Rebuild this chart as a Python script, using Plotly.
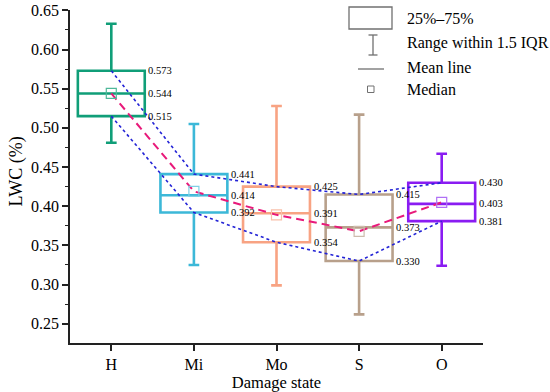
import plotly.graph_objects as go

categories = ["H", "Mi", "Mo", "S", "O"]
q1 = [0.515, 0.392, 0.354, 0.330, 0.381]
median = [0.544, 0.414, 0.391, 0.373, 0.403]
q3 = [0.573, 0.441, 0.425, 0.415, 0.430]
lower_whisker = [0.481, 0.325, 0.299, 0.262, 0.324]
upper_whisker = [0.633, 0.505, 0.528, 0.517, 0.467]
marker_values = [0.544, 0.419, 0.389, 0.368, 0.405]
colors = ["#109e78", "#3cb8d8", "#f8a383", "#b8a08b", "#8a1cf2"]
marker_colors = ["#4fb89a", "#7fd0e6", "#f9c0aa", "#cdbcad", "#b070f5"]

FONT = "Liberation Serif"

fig = go.Figure()

for i, c in enumerate(categories):
    fig.add_trace(go.Box(
        x=[c], q1=[q1[i]], median=[median[i]], q3=[q3[i]],
        lowerfence=[lower_whisker[i]], upperfence=[upper_whisker[i]],
        width=0.81, whiskerwidth=0.16,
        line=dict(color=colors[i], width=2.6),
        fillcolor="rgba(0,0,0,0)", boxpoints=False, showlegend=False,
        hoverinfo="skip",
    ))

# blue dotted lines through Q3 and Q1
fig.add_trace(go.Scatter(x=categories, y=q3, mode="lines",
                         line=dict(color="#2323d6", width=1.6, dash="dot"),
                         showlegend=False, hoverinfo="skip"))
fig.add_trace(go.Scatter(x=categories, y=q1, mode="lines",
                         line=dict(color="#2323d6", width=1.6, dash="dot"),
                         showlegend=False, hoverinfo="skip"))
# magenta dashed line through markers
fig.add_trace(go.Scatter(x=categories, y=marker_values, mode="lines",
                         line=dict(color="#e8197a", width=2, dash="8px,5px"),
                         showlegend=False, hoverinfo="skip"))
fig.add_trace(go.Scatter(x=categories, y=marker_values, mode="markers",
                         marker=dict(symbol="square-open", size=10,
                                     color=marker_colors,
                                     line=dict(width=1.2, color=marker_colors)),
                         showlegend=False, hoverinfo="skip"))

# value labels
for i, c in enumerate(categories):
    for v in (q3[i], median[i], q1[i]):
        fig.add_annotation(x=c, y=v, text=f"{v:.3f}", showarrow=False,
                           xanchor="left", yanchor="middle", xshift=35,
                           font=dict(family=FONT, size=10.5, color="black"))

# legend (drawn manually)
L, T, W, H = 70, 10, 413, 333
def px(x):
    return (x - L) / W
def py(y):
    return (T + H - y) / H

gray = "#707070"
fig.add_shape(type="rect", xref="paper", yref="paper",
              x0=px(349), x1=px(392), y0=py(29), y1=py(7),
              line=dict(color=gray, width=1.3))
fig.add_shape(type="line", xref="paper", yref="paper",
              x0=px(373), x1=px(373), y0=py(55), y1=py(35),
              line=dict(color=gray, width=1.3))
fig.add_shape(type="line", xref="paper", yref="paper",
              x0=px(368.5), x1=px(377.5), y0=py(35), y1=py(35),
              line=dict(color=gray, width=1.3))
fig.add_shape(type="line", xref="paper", yref="paper",
              x0=px(368.5), x1=px(377.5), y0=py(55), y1=py(55),
              line=dict(color=gray, width=1.3))
fig.add_shape(type="line", xref="paper", yref="paper",
              x0=px(358), x1=px(384), y0=py(69), y1=py(69),
              line=dict(color=gray, width=1.3))
fig.add_shape(type="rect", xref="paper", yref="paper",
              x0=px(367.5), x1=px(374), y0=py(92.5), y1=py(86),
              line=dict(color=gray, width=1))

legend_labels = ["25%–75%", "Range within 1.5 IQR", "Mean line", "Median"]
legend_y = [18, 43, 68, 89]
for lab, yy in zip(legend_labels, legend_y):
    fig.add_annotation(xref="paper", yref="paper", x=px(405), y=py(yy),
                       text=lab, showarrow=False, xanchor="left", yanchor="middle",
                       font=dict(family=FONT, size=16, color="black"))

# y-axis title
fig.add_annotation(xref="paper", yref="paper", x=px(16), y=py(171.5),
                   text="LWC (%)", textangle=-90, showarrow=False,
                   xanchor="center", yanchor="middle",
                   font=dict(family=FONT, size=18, color="black"))

axis_common = dict(showline=True, linecolor="#222", linewidth=1.5,
                   ticks="outside", ticklen=6, tickwidth=1.5, tickcolor="#222",
                   showgrid=False, zeroline=False, mirror=False, automargin=False,
                   tickfont=dict(family=FONT, size=16, color="black"))

fig.update_layout(
    width=550, height=392,
    margin=dict(l=L, r=550 - L - W, t=T, b=392 - T - H),
    paper_bgcolor="white", plot_bgcolor="white",
    boxmode="overlay", showlegend=False,
    font=dict(family=FONT),
    xaxis=dict(**axis_common, type="category", range=[-0.5, 4.5],
               title=dict(text="Damage state", standoff=4,
                          font=dict(family=FONT, size=16.5, color="black"))),
    yaxis=dict(**axis_common, range=[0.2254, 0.6505], tickvals=[0.25, 0.30, 0.35, 0.40, 0.45, 0.50, 0.55, 0.60, 0.65],
               tickformat=".2f",
               minor=dict(ticks="outside", ticklen=3, tickwidth=1.2, tickcolor="#222", dtick=0.025, tick0=0.225)),
)

fig.write_html("out.html", config={"displayModeBar": False},
               post_script="document.body.style.margin='0';document.body.style.padding='0';")
